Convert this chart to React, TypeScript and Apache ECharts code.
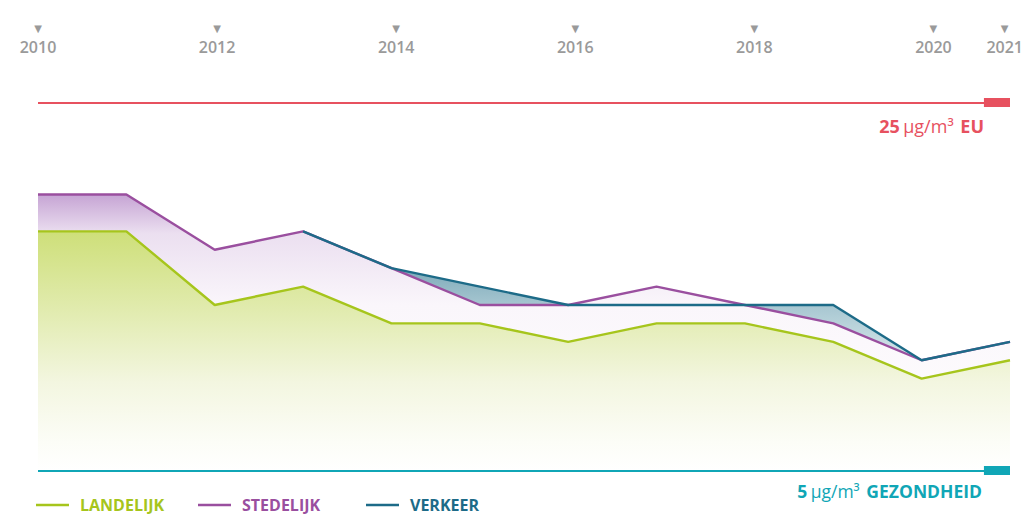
import React, { useEffect, useRef } from "react";
import * as echarts from "echarts";

const years = ["2010", "2011", "2012", "2013", "2014", "2015", "2016", "2017", "2018", "2019", "2020", "2021"];
const landelijk = [18, 18, 14, 15, 13, 13, 12, 13, 13, 12, 10, 11];
const stedelijk = [20, 20, 17, 18, 16, 14, 14, 15, 14, 13, 11, 12];
const verkeer = [null, null, null, 18, 16, 15, 14, 14, 14, 14, 11, 12];
const topTicks = [2010, 2012, 2014, 2016, 2018, 2020, 2021];
const euNorm = 25;
const healthNorm = 5;

const GREEN = "#a6c51c";
const PURPLE = "#9a4f9f";
const TEAL_DARK = "#1d6b88";
const RED = "#e7515f";
const TEAL = "#10a6b6";
const FONT = "Open Sans";
// the thick end cap of each norm line starts this many years before the last one
const CAP_SPAN = 0.295;

export default function App() {
  const ref = useRef<HTMLDivElement>(null);
  useEffect(() => {
    if (!ref.current) return;
    const chart = echarts.init(ref.current, null, { renderer: "svg" });
    const grad = (stops: [number, string][]) =>
      new echarts.graphic.LinearGradient(0, 0, 0, 1, stops.map(([offset, color]) => ({ offset, color })));

    const legendBase = (name: string, color: string, left: number) => ({
      data: [{ name, textStyle: { color } }],
      left,
      top: 497,
      padding: 0,
      icon: "rect",
      itemWidth: 33,
      itemHeight: 2.5,
      selectedMode: false,
      textStyle: { fontFamily: FONT, fontSize: 16, fontWeight: 700, padding: [0, 0, 0, 6] },
    });

    const last = years.length - 1;
    const normLine = (value: number, color: string, label: any) => [
      [
        { coord: [0, value], lineStyle: { color, width: 2, type: "solid" }, label },
        { coord: [last, value] },
      ],
      [
        { coord: [last - CAP_SPAN, value], lineStyle: { color, width: 9, type: "solid" }, label: { show: false } },
        { coord: [last, value] },
      ],
    ];

    chart.setOption({
      animation: false,
      backgroundColor: "#ffffff",
      grid: [
        { left: 38, right: 17, top: 102.5, bottom: 44.3, outerBoundsMode: "none" },
        { left: 38, right: 4, top: 64, height: 1, outerBoundsMode: "none" },
      ],
      legend: [
        legendBase("LANDELIJK", GREEN, 36),
        legendBase("STEDELIJK", PURPLE, 198),
        legendBase("VERKEER", TEAL_DARK, 366),
      ],
      xAxis: [
        { type: "category", data: years, boundaryGap: false, show: false, gridIndex: 0 },
        {
          type: "value",
          gridIndex: 1,
          position: "top",
          min: 2010,
          max: 2021,
          interval: 1,
          axisLine: { show: false },
          axisTick: { show: false },
          splitLine: { show: false },
          axisLabel: {
            margin: 8,
            alignMaxLabel: "right",
            formatter: (v: number) => (topTicks.includes(v) ? `{t|▼}\n{y|${v}}` : ""),
            rich: {
              t: { fontSize: 10, lineHeight: 20, color: "#9a9a9a", align: "center", fontFamily: "DejaVu Sans" },
              y: { fontSize: 16, lineHeight: 18, color: "#9a9a9a", fontWeight: 600, fontFamily: FONT, align: "center" },
            },
          },
        },
        { type: "value", gridIndex: 0, min: 0, max: last, show: false },
      ],
      yAxis: [
        { type: "value", min: 5, max: 25, show: false, gridIndex: 0 },
        { type: "value", show: false, gridIndex: 1 },
      ],
      series: [
        {
          name: "verkeer-area",
          type: "line",
          data: verkeer,
          symbol: "none",
          lineStyle: { width: 0 },
          areaStyle: {
            opacity: 1,
            color: grad([
              [0, "#6d9daf"],
              [0.17, "#82adbc"],
              [0.32, "#a9c8d2"],
              [0.5, "#d0e2e7"],
              [1, "#ffffff"],
            ]),
          },
        },
        {
          name: "stedelijk-area",
          type: "line",
          data: stedelijk,
          symbol: "none",
          lineStyle: { width: 0 },
          areaStyle: {
            opacity: 1,
            color: grad([
              [0, "#c6a4d4"],
              [0.14, "#ebdff0"],
              [0.4, "#faf6fb"],
              [1, "#ffffff"],
            ]),
          },
        },
        {
          name: "landelijk-area",
          type: "line",
          data: landelijk,
          symbol: "none",
          lineStyle: { width: 0 },
          areaStyle: {
            opacity: 1,
            color: grad([
              [0, "#cedf79"],
              [0.38, "#e4edb7"],
              [0.63, "#f3f6e0"],
              [0.88, "#fcfdf7"],
              [1, "#ffffff"],
            ]),
          },
        },
        {
          name: "norms",
          type: "line",
          xAxisIndex: 2,
          yAxisIndex: 0,
          data: landelijk.map((v, i) => [i, v]),
          symbol: "none",
          lineStyle: { width: 0, opacity: 0 },
          silent: true,
          markLine: {
            silent: true,
            symbol: ["none", "none"],
            data: [
              ...normLine(euNorm, RED, {
                show: true,
                position: "insideEndBottom",
                distance: [26, 14],
                formatter: `{b|${euNorm}} {n|µg/m³}  {b|EU}`,
                rich: {
                  b: { fontFamily: FONT, fontSize: 18, fontWeight: 700, color: RED },
                  n: { fontFamily: FONT, fontSize: 18, fontWeight: 400, color: RED },
                },
              }),
              ...normLine(healthNorm, TEAL, {
                show: true,
                position: "insideEndBottom",
                distance: [28, 11],
                formatter: `{b|${healthNorm}} {n|µg/m³}  {b|GEZONDHEID}`,
                rich: {
                  b: { fontFamily: FONT, fontSize: 17.5, fontWeight: 700, color: TEAL },
                  n: { fontFamily: FONT, fontSize: 17.5, fontWeight: 400, color: TEAL },
                },
              }),
            ],
          },
        },
        {
          name: "LANDELIJK",
          type: "line",
          data: landelijk,
          symbol: "none",
          color: GREEN,
          lineStyle: { width: 2.4, color: GREEN },
        },
        {
          name: "STEDELIJK",
          type: "line",
          data: stedelijk,
          symbol: "none",
          color: PURPLE,
          lineStyle: { width: 2.4, color: PURPLE },
        },
        {
          name: "VERKEER",
          type: "line",
          data: verkeer,
          symbol: "none",
          color: TEAL_DARK,
          lineStyle: { width: 2.4, color: TEAL_DARK },
        },
      ],
    });
    return () => chart.dispose();
  }, []);
  return <div ref={ref} style={{ width: 1027, height: 515, position: "absolute", left: 0, top: 0 }} />;
}
